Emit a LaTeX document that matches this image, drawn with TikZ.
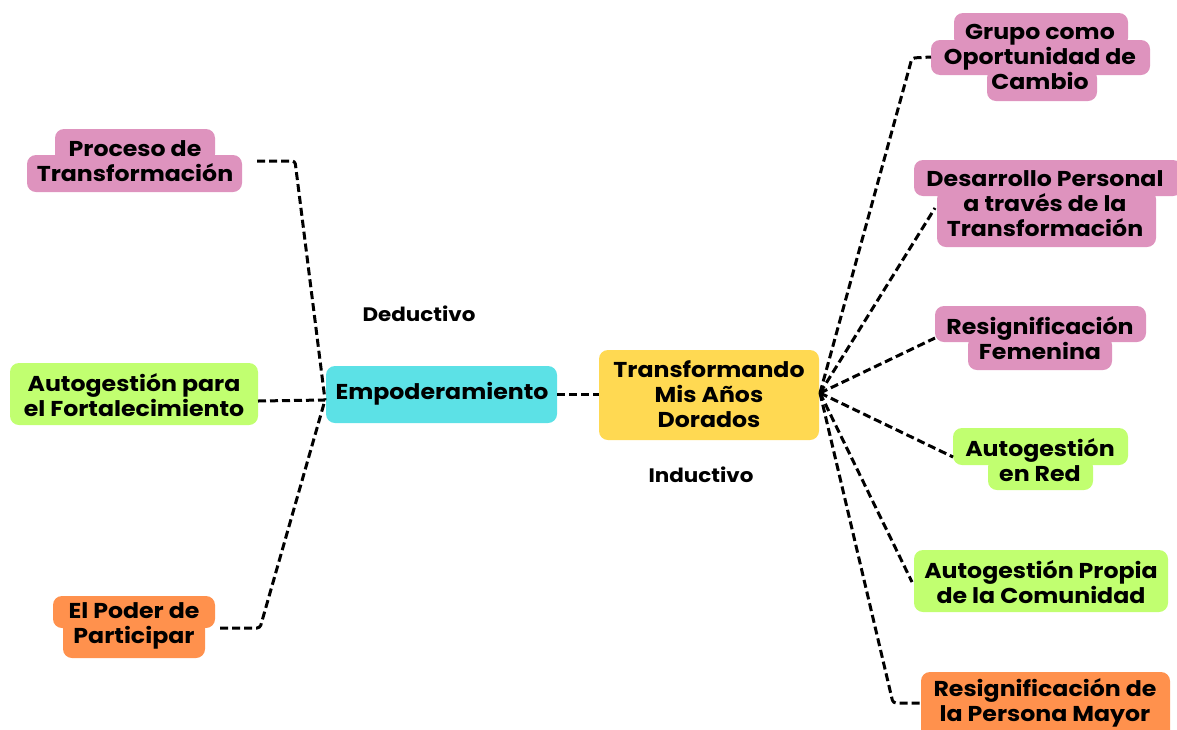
\documentclass[tikz,border=0pt]{standalone}
\usepackage{fontspec}
\setmainfont{Poppins}[FakeStretch=1.1]
\definecolor{pk}{HTML}{DE93BE}
\definecolor{gr}{HTML}{C1FF70}
\definecolor{cy}{HTML}{5CE1E6}
\definecolor{ye}{HTML}{FFD952}
\definecolor{orc}{HTML}{FF914D}
\tikzset{
  lbl/.style={font=\fontsize{21.5}{25}\selectfont\bfseries, align=center, inner sep=0pt, text=black},
  small/.style={font=\fontsize{19.5}{23}\selectfont\bfseries, inner sep=0pt, text=black},
  conn/.style={line width=3pt, dash pattern=on 8pt off 4pt, line join=round, rounded corners=3pt},
  bx/.style={rounded corners=9pt}
}
\begin{document}
\begin{tikzpicture}[x=1pt,y=-1pt]
\useasboundingbox (0,0) rectangle (1177,729);
\clip (0,0) rectangle (1177,729);
% ---------- box fills ----------
% Proceso de Transformacion
\fill[pk,bx] (55,129) rectangle (215,163);
\fill[pk,bx] (27,155) rectangle (242,192);
% Autogestion para el Fortalecimiento
\fill[gr,bx] (10,363) rectangle (258,425);
% Empoderamiento
\fill[cy,bx] (326,366) rectangle (557,423);
% Transformando
\fill[ye,bx] (599,350) rectangle (819,440);
% El Poder de Participar
\fill[orc,bx] (53,596) rectangle (215,628);
\fill[orc,bx] (63,620) rectangle (205,658);
% Grupo como
\fill[pk,bx] (954,13) rectangle (1128,47);
\fill[pk,bx] (987,69) rectangle (1097,101);
\fill[pk,bx] (931,40) rectangle (1150,75);
% Desarrollo Personal
\fill[pk,bx] (937,190) rectangle (1156,247);
\fill[pk,bx] (914,160) rectangle (1182,196);
% Resignificacion Femenina
\fill[pk,bx] (968,336) rectangle (1112,370);
\fill[pk,bx] (935,306) rectangle (1146,342);
% Autogestion en Red
\fill[gr,bx] (988,458) rectangle (1093,490);
\fill[gr,bx] (953,428) rectangle (1128,465);
% Autogestion Propia
\fill[gr,bx] (914,550) rectangle (1168,612);
% Resignificacion de la Persona Mayor
\fill[orc,bx] (921,672) rectangle (1170,745);
% ---------- text nodes ----------
\node[lbl] (proc) at (135,161) {Proceso de\\Transformación};
\node[lbl] (autf) at (134,395) {Autogestión para\\el Fortalecimiento};
\node[lbl] (emp) at (442,394) {Empoderamiento};
\node[lbl] (tmad) at (709,394) {Transformando\\Mis Años\\Dorados};
\node[lbl] (poder) at (134,626) {El Poder de\\Participar};
\node[lbl] (grupo) at (1040,57) {Grupo como\\Oportunidad de\\Cambio};
\node[lbl] (desa) at (1045,204) {Desarrollo Personal\\a través de la\\Transformación};
\node[lbl] (resf) at (1040,338) {Resignificación\\Femenina};
\node[lbl] (autr) at (1040,460) {Autogestión\\en Red};
\node[lbl] (autp) at (1041,582) {Autogestión Propia\\de la Comunidad};
\node[lbl] (resp) at (1045,703) {Resignificación de\\la Persona Mayor};
\node[small] (ded) at (419,314) {Deductivo};
\node[small] (ind) at (701,475) {Inductivo};
% ---------- connector points ----------
\coordinate (hubL) at (325,400);
\coordinate (hubR) at (820,393);
\coordinate (procE) at (257,161);
\coordinate (procC) at (295,161);
\coordinate (autfE) at (258,401);
\coordinate (poderE) at (220,628);
\coordinate (poderC) at (260,628);
\coordinate (empE) at (557,394);
\coordinate (tmadW) at (599,394);
\coordinate (grupoC) at (912,58);
\coordinate (grupoW) at (931,57);
\coordinate (desaW) at (935,208);
\coordinate (resfW) at (935,338);
\coordinate (autrW) at (953,457);
\coordinate (autpW) at (912,582);
\coordinate (respC) at (893,703);
\coordinate (respW) at (921,703);
% ---------- connectors ----------
\draw[conn] (procE) -- (procC) -- (hubL);
\draw[conn] (autfE) -- (hubL);
\draw[conn] (poderE) -- (poderC) -- (hubL);
\draw[conn] (empE) -- (tmadW);
\draw[conn] (hubR) -- (grupoC) -- (grupoW);
\draw[conn] (hubR) -- (desaW);
\draw[conn] (hubR) -- (resfW);
\draw[conn] (hubR) -- (autrW);
\draw[conn] (hubR) -- (autpW);
\draw[conn] (hubR) -- (respC) -- (respW);
\end{tikzpicture}
\end{document}
